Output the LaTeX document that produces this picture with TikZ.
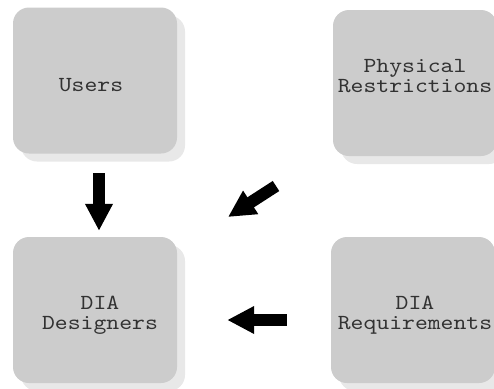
\documentclass[tikz,border=0pt]{standalone}
\usepackage{fontspec}
\setmonofont{lmmono10-regular.otf}[FakeStretch=1.14]
\usepackage{tikz}
\usetikzlibrary{arrows.meta,shadows}

\definecolor{boxgray}{RGB}{204,204,204}
\definecolor{shadowgray}{RGB}{232,232,232}
\definecolor{textgray}{RGB}{50,50,50}

\begin{document}
\begin{tikzpicture}[x=1pt,y=-1pt,
    box/.style={rectangle, rounded corners=16pt, fill=boxgray, minimum width=164pt, minimum height=146pt, inner sep=0pt,
        drop shadow={shadow xshift=8pt, shadow yshift=-8pt, fill=shadowgray, opacity=1}},
    lbl/.style={inner sep=0pt, align=center, text=textgray, font=\ttfamily\fontsize{21.5}{20}\selectfont},
    fat/.style={line width=12pt, -{Triangle[length=27pt,width=26pt]}}]
        \useasboundingbox (0,0) rectangle (494,388);

        % Draw the four boxes
        \node[box] (users) at (95,80.5) {};
        \node[box] (phys) at (415,83) {};
        \node[box] (des) at (95,310) {};
        \node[box] (req) at (413,310) {};

        % Put the text in each box
        \node[lbl] (usersl) at (91,85.5) {Users};
        \node[lbl] (physl) at (415,76) {Physical\\Restrictions};
        \node[lbl] (desl) at (100,315.5) {DIA\\Designers};
        \node[lbl] (reql) at (415,315.5) {DIA\\Requirements};

        % Draw the arrows between the boxes
        \draw[fat, shorten <=19.5pt, shorten >=6pt] ([xshift=4pt]users.south) -- ([xshift=4pt]des.north);
        \coordinate (diagtail) at (276,186);
        \coordinate (diagtip) at (228,217);
        \draw[fat] (diagtail) -- (diagtip);
        \draw[fat, shorten <=44pt, shorten >=50pt] ([yshift=-10pt]req.west) -- ([yshift=-10pt]des.east);
    \end{tikzpicture}
\end{document}
